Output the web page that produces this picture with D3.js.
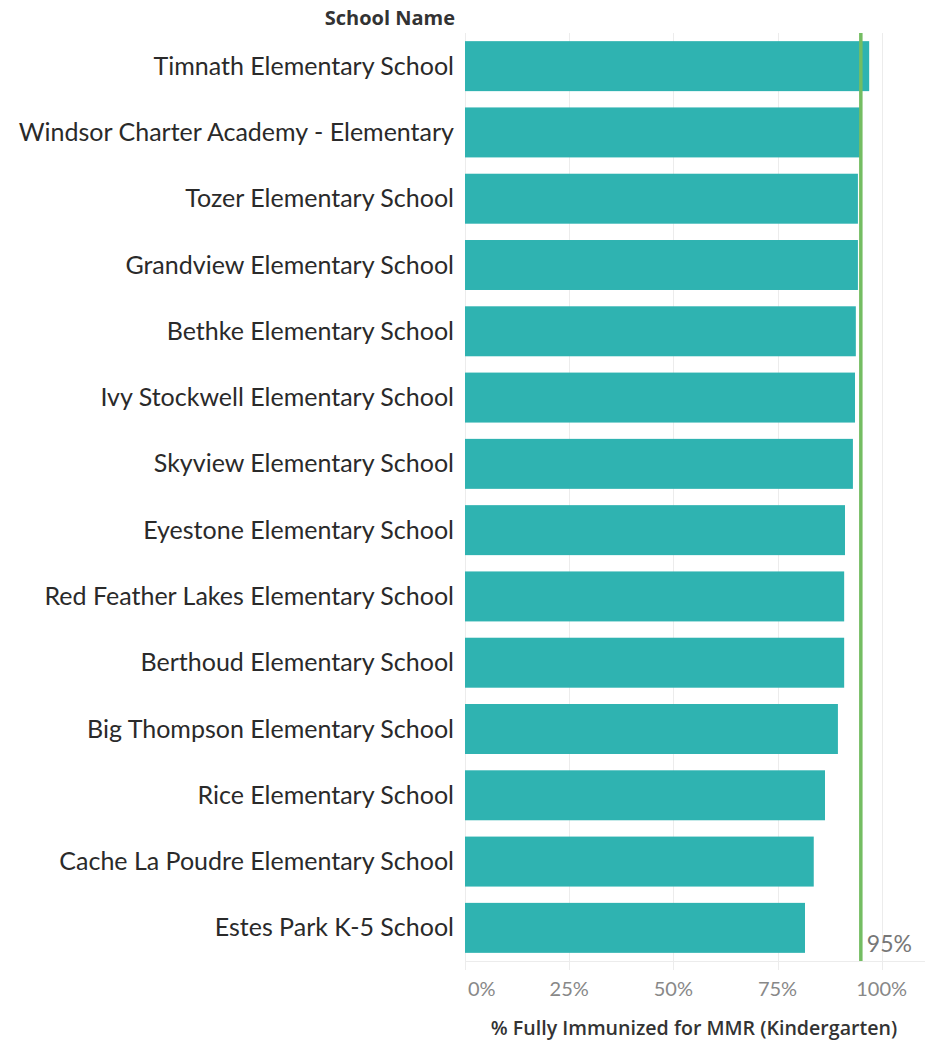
<!DOCTYPE html>
<html lang="en">
<head>
<meta charset="utf-8">
<title>% Fully Immunized for MMR</title>
<script src="https://cdn.jsdelivr.net/npm/d3@7/dist/d3.min.js"></script>
<style>
  body { margin: 0; background: #fff; }
  svg { display: block; font-family: Lato, "Noto Sans", sans-serif; }
</style>
</head>
<body>
<svg id="chart" width="930" height="1042"></svg>
<script>
// data
var schools = [
  'Timnath Elementary School',
  'Windsor Charter Academy - Elementary',
  'Tozer Elementary School',
  'Grandview Elementary School',
  'Bethke Elementary School',
  'Ivy Stockwell Elementary School',
  'Skyview Elementary School',
  'Eyestone Elementary School',
  'Red Feather Lakes Elementary School',
  'Berthoud Elementary School',
  'Big Thompson Elementary School',
  'Rice Elementary School',
  'Cache La Poudre Elementary School',
  'Estes Park K-5 School'
];
var pctImmunized = [0.970, 0.949, 0.943, 0.943, 0.938, 0.936, 0.931, 0.912, 0.910, 0.910, 0.895, 0.864, 0.837, 0.816];
var xTicks = [0, 0.25, 0.5, 0.75, 1];
var target = 0.95;

var data = schools.map(function(s, i) { return {name: s, value: pctImmunized[i]}; });

var svg = d3.select('#chart');
var plotLeft = 465, plotRight = 925, plotTop = 33, plotBottom = 961;

var x = d3.scaleLinear().domain([0, 1.104]).range([plotLeft, plotRight]);
var y = d3.scaleBand().domain(schools).range([plotTop, plotBottom]).paddingInner(0.246).paddingOuter(0.123);

// gridlines (running down into the tick area)
svg.append('g').selectAll('line')
  .data(xTicks)
  .enter().append('line')
  .attr('x1', function(d) { return Math.round(x(d)) + 0.5; })
  .attr('x2', function(d) { return Math.round(x(d)) + 0.5; })
  .attr('y1', plotTop).attr('y2', plotBottom + 9)
  .attr('stroke', '#ececec').attr('stroke-width', 1);

svg.append('line')
  .attr('x1', plotLeft).attr('x2', plotRight)
  .attr('y1', plotBottom + 0.5).attr('y2', plotBottom + 0.5)
  .attr('stroke', '#ececec');

// bars
svg.append('g').selectAll('rect')
  .data(data)
  .enter().append('rect')
  .attr('x', x(0))
  .attr('y', function(d) { return y(d.name); })
  .attr('width', function(d) { return x(d.value) - x(0); })
  .attr('height', y.bandwidth())
  .attr('fill', '#2fb3b1');

// target line
svg.append('line')
  .attr('x1', x(target)).attr('x2', x(target))
  .attr('y1', plotTop).attr('y2', plotBottom)
  .attr('stroke', '#74bd62').attr('stroke-width', 3.5);

svg.append('text')
  .attr('x', x(target) + 6).attr('y', plotBottom - 9)
  .attr('fill', '#777').attr('font-size', 23)
  .text(d3.format('.0%')(target));

// row labels
svg.append('g').selectAll('text')
  .data(data)
  .enter().append('text')
  .attr('x', 454)
  .attr('y', function(d) { return y(d.name) + y.bandwidth() / 2 + 8.5; })
  .attr('text-anchor', 'end')
  .attr('fill', '#2a2a2a').attr('font-size', 25)
  .text(function(d) { return d.name; });

svg.append('text')
  .attr('x', 455).attr('y', 25)
  .attr('text-anchor', 'end')
  .attr('font-family', '"Open Sans", Lato, sans-serif')
  .attr('fill', '#333').attr('font-size', 20).attr('font-weight', 'bold')
  .text('School Name');

// x tick labels
svg.append('g').selectAll('text')
  .data(xTicks)
  .enter().append('text')
  .attr('x', function(d) { return d === 0 ? x(d) + 3 : x(d); })
  .attr('y', 996)
  .attr('text-anchor', function(d) { return d === 0 ? 'start' : 'middle'; })
  .attr('fill', '#888').attr('font-size', 20)
  .text(d3.format('.0%'));

svg.append('text')
  .attr('x', 694).attr('y', 1035)
  .attr('text-anchor', 'middle')
  .attr('font-family', '"Open Sans", Lato, sans-serif')
  .attr('fill', '#333').attr('font-size', 19.6).attr('font-weight', 600)
  .text('% Fully Immunized for MMR (Kindergarten)');
</script>
</body>
</html>
